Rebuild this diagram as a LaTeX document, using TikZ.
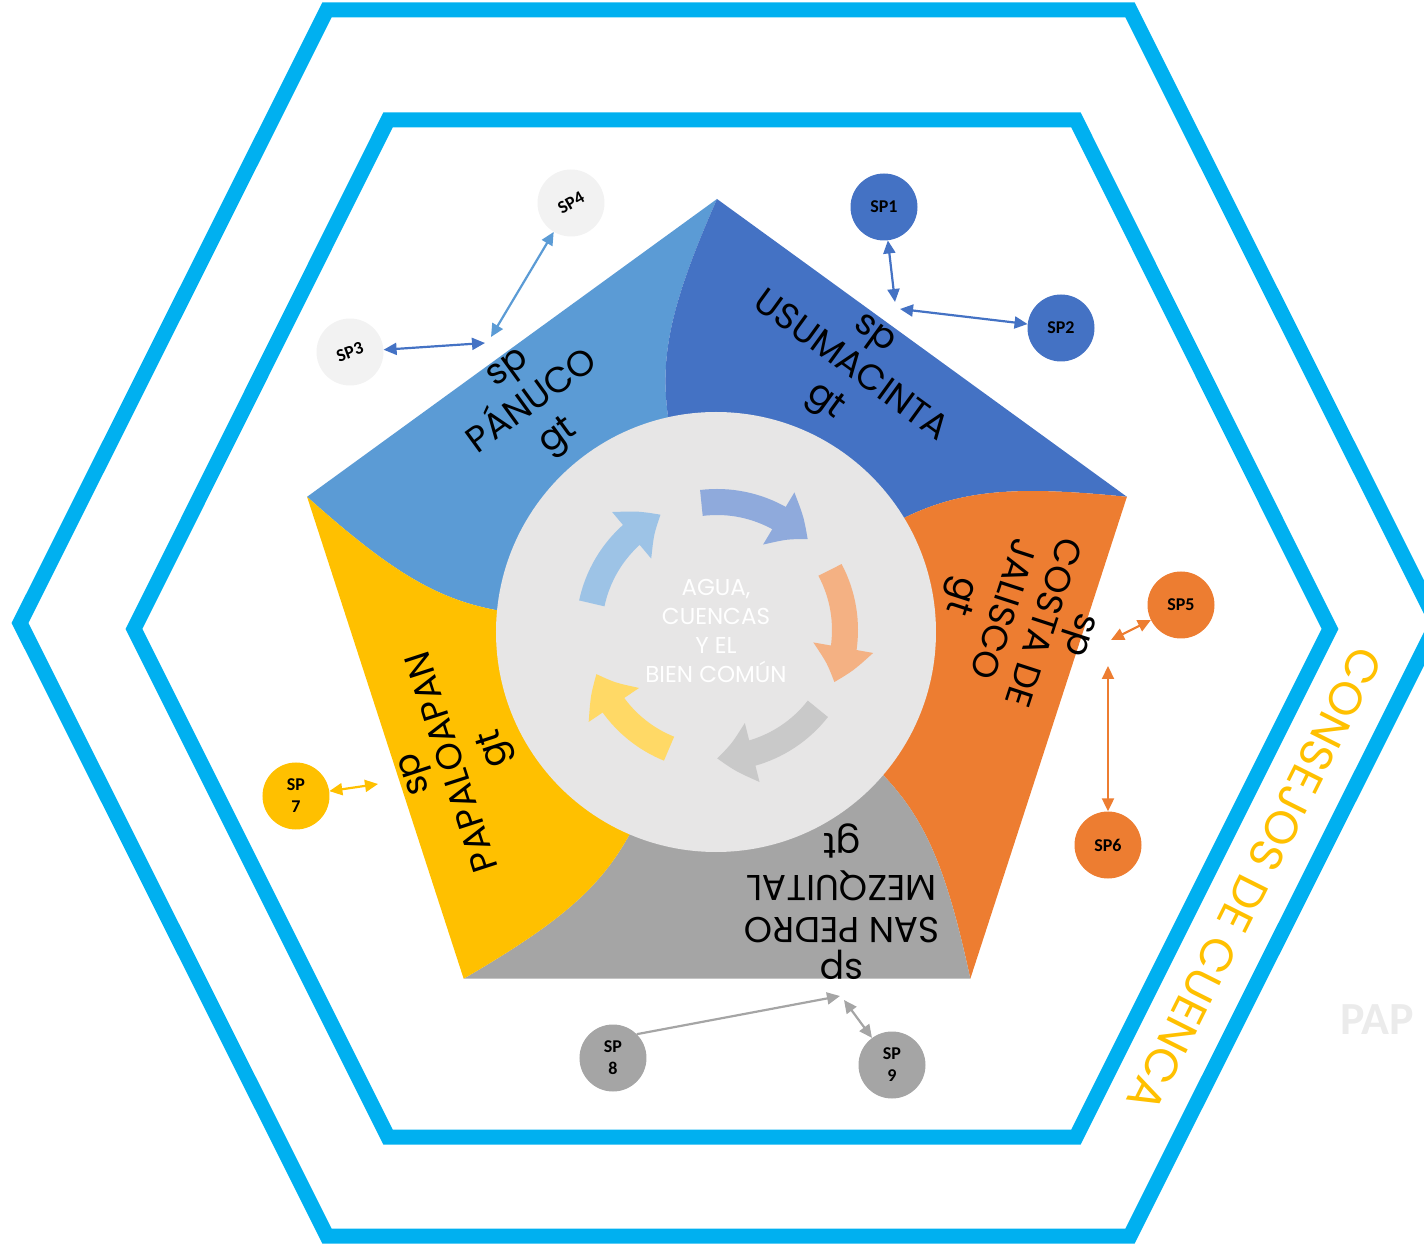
\documentclass[tikz,border=0pt]{standalone}
\usepackage{fontspec}
\setmainfont{Poppins}
\newfontfamily\spfont{Carlito}
\usetikzlibrary{arrows.meta,bending}
\definecolor{hexblue}{HTML}{00B0F0}
\definecolor{panuco}{HTML}{5B9BD5}
\definecolor{usuma}{HTML}{4472C4}
\definecolor{costa}{HTML}{ED7D31}
\definecolor{sanpedro}{HTML}{A5A5A5}
\definecolor{papalo}{HTML}{FFC000}
\definecolor{hub}{HTML}{E7E6E6}
\definecolor{spgray}{HTML}{F2F2F2}
\definecolor{cycA}{HTML}{9DC3E6}
\definecolor{cycB}{HTML}{8FAADC}
\definecolor{cycC}{HTML}{F4B183}
\definecolor{cycD}{HTML}{C9C9C9}
\definecolor{cycE}{HTML}{FFD966}
\definecolor{papgray}{HTML}{EBEBEB}
\begin{document}
\begin{tikzpicture}[x=1pt,y=1pt,
  frame/.style={draw=hexblue,line width=15pt,line join=miter},
  basin/.style={font=\fontsize{36}{42}\selectfont,align=center,inner sep=0pt},
  cyclearrow/.style={line width=26pt,-{Triangle[bend,length=36pt,width=58pt]}},
  spnode/.style={circle,minimum size=67pt,inner sep=0pt,align=center,font=\spfont\bfseries\fontsize{18}{22}\selectfont},
  splink/.style={{Triangle[length=13pt,width=12pt]}-{Triangle[length=13pt,width=12pt]},line width=2.2pt}]
\pgfmathsetmacro{\kp}{431}
\pgfmathsetmacro{\kc}{215}
\useasboundingbox (-717,-614) rectangle (707,630);
\fill[panuco](103:\kc)..controls(102:280)and(98:330)..(90:\kp)--(162:\kp)..controls(170:330)and(174:280)..(175:\kc)--cycle;
\fill[usuma](31:\kc)..controls(30:280)and(26:330)..(18:\kp)--(90:\kp)..controls(98:330)and(102:280)..(103:\kc)--cycle;
\fill[costa](-41:\kc)..controls(-42:280)and(-46:330)..(-54:\kp)--(18:\kp)..controls(26:330)and(30:280)..(31:\kc)--cycle;
\fill[sanpedro](-113:\kc)..controls(-114:280)and(-118:330)..(-126:\kp)--(-54:\kp)..controls(-46:330)and(-42:280)..(-41:\kc)--cycle;
\fill[papalo](175:\kc)..controls(174:280)and(170:330)..(162:\kp)--(234:\kp)..controls(242:330)and(246:280)..(247:\kc)--cycle;
\fill[hub](-1,-2)circle[radius=220];
\draw[cyclearrow,cycA](168:128)arc[start angle=168,end angle=116,radius=128];
\draw[cyclearrow,cycB](97:128)arc[start angle=97,end angle=45,radius=128];
\draw[cyclearrow,cycC](28:128)arc[start angle=28,end angle=-24,radius=128];
\draw[cyclearrow,cycD](-38:128)arc[start angle=-38,end angle=-90,radius=128];
\draw[cyclearrow,cycE](-112:128)arc[start angle=-112,end angle=-160,radius=128];
\node[font=\fontsize{23}{29}\selectfont,text=white,align=center](hubtext)at(-1,-1){AGUA,\\CUENCAS\\Y EL\\BIEN COMÚN};
\node[basin,rotate=36](panucolbl)at(-182,225){sp\\PÁNUCO\\gt};
\node[basin,rotate=-36](usumalbl)at(131,260){sp\\USUMACINTA\\gt};
\node[basin,rotate=-108](costalbl)at(300,16){sp\\COSTA DE\\JALISCO\\gt};
\node[basin,rotate=180](sanpedrolbl)at(125,-272){sp\\SAN PEDRO\\MEZQUITAL\\gt};
\node[basin,rotate=108](papalolbl)at(-259,-130){sp\\PAPALOAPAN\\gt};
\draw[frame](-390,620)--(413,620)--(720,7)--(413,-606)--(-390,-606)--(-697,7)--cycle;
\draw[frame](-329,510)--(359,510)--(613,1)--(359,-507)--(-329,-507)--(-583,1)--cycle;
\node[rotate=-116.6,text=papalo,font=\fontsize{46}{50}\selectfont](consejos)at(538,-250){CONSEJOS DE CUENCA};
\node[anchor=west,inner sep=0pt,text=papgray,font=\spfont\bfseries\fontsize{46}{50}\selectfont](pap)at(623,-390){PAP};
\node[spnode,fill=usuma](sp1)at(167,423){SP1};
\node[spnode,fill=usuma](sp2)at(344,302){SP2};
\node[spnode,fill=spgray,rotate=20](sp3)at(-367,278){SP3};
\node[spnode,fill=spgray,rotate=30](sp4)at(-146,427){SP4};
\node[spnode,fill=costa](sp5)at(464,25){SP5};
\node[spnode,fill=costa](sp6)at(391,-215){SP6};
\node[spnode,fill=papalo](sp7)at(-421,-166){SP\\7};
\node[spnode,fill=sanpedro](sp8)at(-104,-428){SP\\8};
\node[spnode,fill=sanpedro](sp9)at(175,-435){SP\\9};
\coordinate(j1)at(178,328);
\coordinate(j2)at(183,321);
\coordinate(j3)at(-232,287);
\coordinate(j4)at(-226,293);
\coordinate(j5)at(394,-10);
\coordinate(j6)at(391,-36);
\coordinate(j7)at(-339,-154);
\coordinate(j8)at(123,-366);
\coordinate(j9)at(127,-370);
\draw[splink,usuma](j1)--(sp1);
\draw[splink,usuma](j2)--(sp2);
\draw[splink,usuma](sp3)--(j3);
\draw[splink,panuco](j4)--(sp4);
\draw[splink,costa](j5)--(sp5);
\draw[splink,costa](j6)--(sp6);
\draw[splink,papalo](sp7)--(j7);
\draw[-{Triangle[length=13pt,width=12pt]},line width=2.2pt,sanpedro](sp8.north east)--(j8);
\draw[splink,sanpedro](j9)--(sp9);
\end{tikzpicture}
\end{document}
